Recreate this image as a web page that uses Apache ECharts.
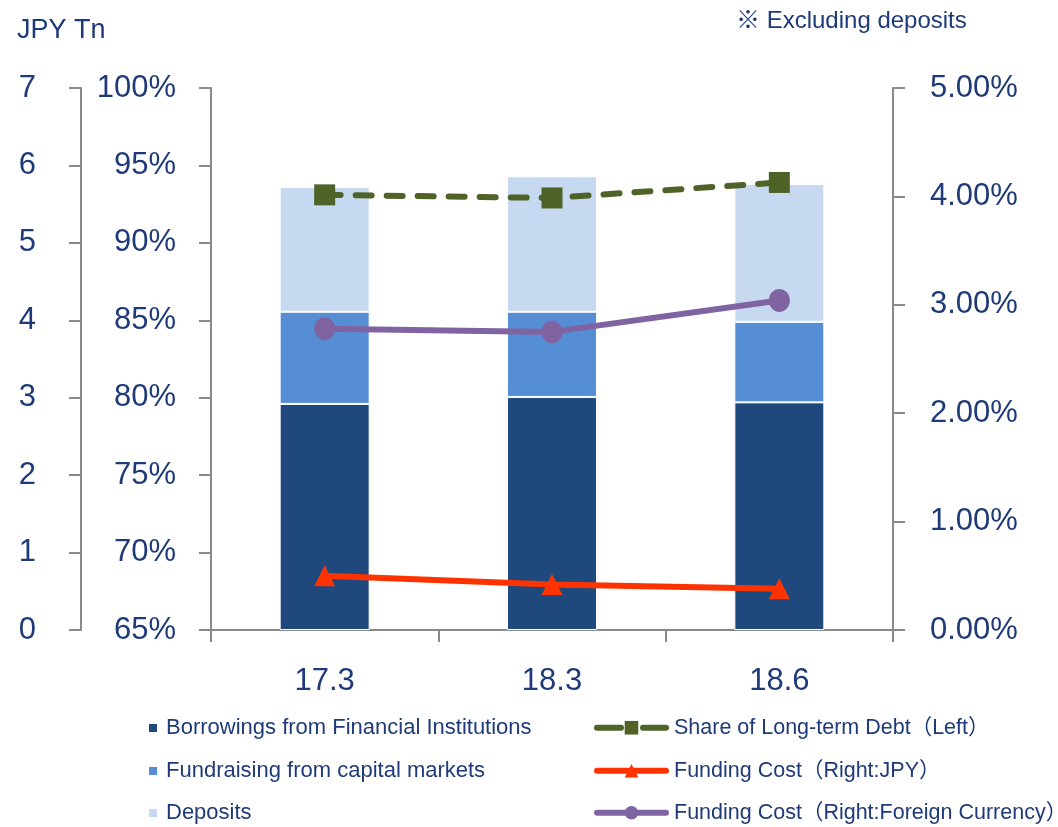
<!DOCTYPE html>
<html>
<head>
<meta charset="utf-8">
<script src="https://cdn.jsdelivr.net/npm/echarts@6/dist/echarts.min.js"></script>
<style>
  html, body { margin: 0; padding: 0; background: #fff; }
  #chart { width: 1058px; height: 827px; }
</style>
</head>
<body>
<div id="chart"></div>
<script>
// Period labels (fiscal year-end . month)
const categories = ['17.3', '18.3', '18.6'];

// Funding balance by source, JPY trillion
const borrowings = [2.92, 3.01, 2.94];
const capitalMarkets = [1.19, 1.10, 1.04];
const deposits = [1.61, 1.75, 1.78];

// Share of long-term debt, % (left percentage axis)
const longTermShare = [93.1, 92.9, 93.9];

// Funding cost, % (right axis)
const costJPY = [0.50, 0.42, 0.38];
const costForeign = [2.78, 2.75, 3.04];

const NAVY = '#1F3A78';
const AXIS_GRAY = '#8A8A8A';
const FONT = '"Liberation Sans", Arial, "Noto Sans CJK JP", sans-serif';

const NAMES = {
  borrow: 'Borrowings from Financial Institutions',
  market: 'Fundraising from capital markets',
  deposit: 'Deposits',
  share: 'Share of Long-term Debt（Left）',
  jpy: 'Funding Cost（Right:JPY）',
  fx: 'Funding Cost（Right:Foreign Currency）'
};

const axisLine = { show: true, lineStyle: { color: AXIS_GRAY, width: 2 } };
const axisTick = { show: true, length: 12, lineStyle: { color: AXIS_GRAY, width: 2 } };
const tickLabel = { color: NAVY, fontSize: 31, fontFamily: FONT };
const legendText = { color: NAVY, fontSize: 22, fontFamily: FONT, lineHeight: 20 };

// One legend entry per row, two columns: bar sources on the left, lines on the right
const rowTops = [717, 760, 802];
function barLegend(name, row) {
  return {
    left: 147, top: rowTops[row], padding: 0,
    itemWidth: 10, itemHeight: 10, icon: 'rect',
    textStyle: Object.assign({}, legendText, { padding: [0, 0, 0, 3] }),
    data: [name]
  };
}
function lineLegend(name, row, color, dashed) {
  return {
    left: 594, top: rowTops[row], padding: 0,
    itemWidth: 69, itemHeight: 17,
    textStyle: Object.assign({}, legendText, { fontSize: 21.5, padding: [0, 0, 0, 3] }),
    lineStyle: { width: 6, color: color, type: dashed ? [24, 22] : 'solid', cap: 'round' },
    data: [name]
  };
}

const chart = echarts.init(document.getElementById('chart'), null, { renderer: 'canvas' });

chart.setOption({
  animation: false,
  backgroundColor: '#fff',
  title: [
    { text: 'JPY Tn', left: 12, top: 12,
      textStyle: { color: NAVY, fontSize: 27, fontWeight: 'normal', fontFamily: FONT } },
    { text: '※ Excluding deposits', left: 731, top: 4,
      textStyle: { color: NAVY, fontSize: 24, fontWeight: 'normal', fontFamily: FONT } }
  ],
  grid: { left: 211, right: 165, top: 88, bottom: 197, containLabel: false },
  legend: [
    barLegend(NAMES.borrow, 0),
    barLegend(NAMES.market, 1),
    barLegend(NAMES.deposit, 2),
    lineLegend(NAMES.share, 0, '#4F6228', true),
    lineLegend(NAMES.jpy, 1, '#FF3300', false),
    lineLegend(NAMES.fx, 2, '#8064A2', false)
  ],
  xAxis: {
    type: 'category',
    data: categories,
    boundaryGap: true,
    axisLine: axisLine,
    axisTick: Object.assign({ alignWithLabel: false }, axisTick),
    axisLabel: Object.assign({ margin: 36 }, tickLabel),
    splitLine: { show: false }
  },
  yAxis: [
    {
      type: 'value', position: 'left', offset: 130,
      min: 0, max: 7, interval: 1,
      axisLine: axisLine, axisTick: axisTick,
      axisLabel: Object.assign({ margin: 45 }, tickLabel),
      splitLine: { show: false }
    },
    {
      type: 'value', position: 'left', offset: 0,
      min: 65, max: 100, interval: 5,
      axisLine: axisLine, axisTick: axisTick,
      axisLabel: Object.assign({ margin: 35, formatter: '{value}%' }, tickLabel),
      splitLine: { show: false }
    },
    {
      type: 'value', position: 'right',
      min: 0, max: 5, interval: 1,
      axisLine: axisLine, axisTick: axisTick,
      axisLabel: Object.assign({ margin: 37, formatter: v => v.toFixed(2) + '%' }, tickLabel),
      splitLine: { show: false }
    }
  ],
  series: [
    {
      name: NAMES.borrow, type: 'bar', stack: 'funding',
      yAxisIndex: 0, barWidth: 90, data: borrowings,
      itemStyle: { color: '#1F497D', borderColor: '#fff', borderWidth: 1 }
    },
    {
      name: NAMES.market, type: 'bar', stack: 'funding',
      yAxisIndex: 0, barWidth: 90, data: capitalMarkets,
      itemStyle: { color: '#558ED5', borderColor: '#fff', borderWidth: 1 }
    },
    {
      name: NAMES.deposit, type: 'bar', stack: 'funding',
      yAxisIndex: 0, barWidth: 90, data: deposits,
      itemStyle: { color: '#C6D9F1', borderColor: '#fff', borderWidth: 1 }
    },
    {
      name: NAMES.share, type: 'line', yAxisIndex: 1,
      data: longTermShare, symbol: 'rect', symbolSize: 21, z: 5,
      lineStyle: { color: '#4F6228', width: 6, type: [16, 15], cap: 'round' },
      itemStyle: { color: '#4F6228' }
    },
    {
      name: NAMES.jpy, type: 'line', yAxisIndex: 2,
      data: costJPY, symbol: 'triangle', symbolSize: [21, 21], z: 5,
      lineStyle: { color: '#FF3300', width: 6 },
      itemStyle: { color: '#FF3300' }
    },
    {
      name: NAMES.fx, type: 'line', yAxisIndex: 2,
      data: costForeign, symbol: 'circle', symbolSize: [21, 23], z: 5,
      lineStyle: { color: '#8064A2', width: 6 },
      itemStyle: { color: '#8064A2' }
    }
  ]
});
</script>
</body>
</html>
